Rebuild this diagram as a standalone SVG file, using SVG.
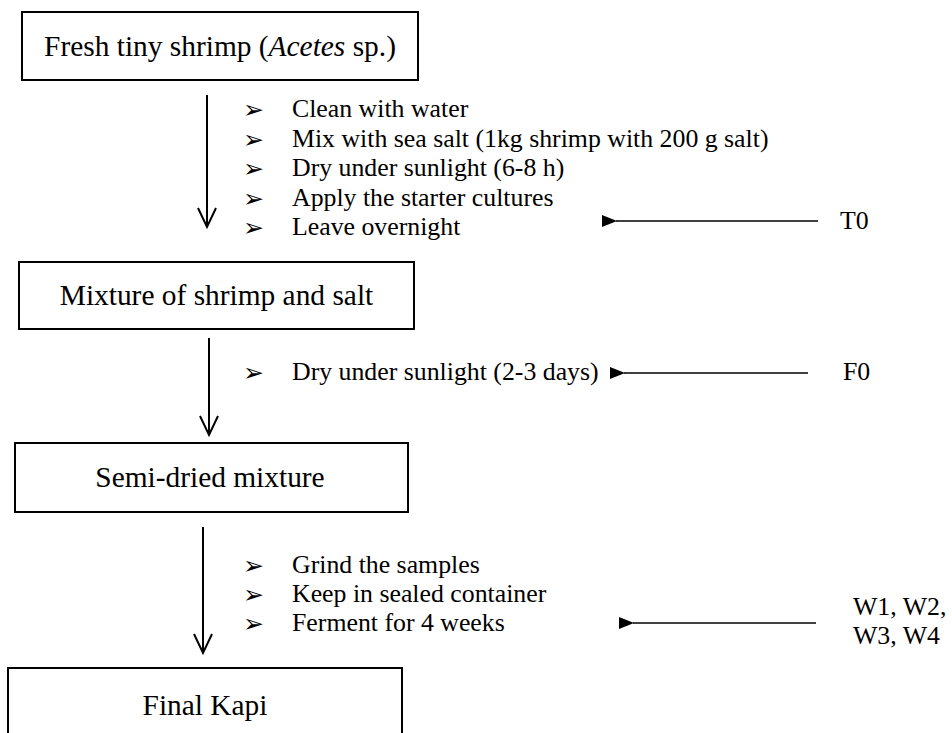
<svg xmlns="http://www.w3.org/2000/svg" width="952" height="733" viewBox="0 0 952 733">
  <style>
    .box { fill: #fff; stroke: #000; stroke-width: 2; }
    .title { font-family: "Liberation Serif", "Times New Roman", serif; font-size: 29.4px; fill: #000; text-anchor: middle; }
    .step { font-family: "Liberation Serif", "Times New Roman", serif; font-size: 25.8px; fill: #000; }
    .bullet { font-family: "DejaVu Sans", sans-serif; font-size: 25px; fill: #000; }
    .flow { stroke: #000; stroke-width: 2; fill: none; }
    .tick { stroke: #000; stroke-width: 1.4; fill: none; }
  </style>
  <defs>
    <marker id="head" viewBox="0 0 15 12" refX="1" refY="6" markerWidth="15" markerHeight="12" markerUnits="userSpaceOnUse" orient="auto-start-reverse">
      <path d="M0,6 L15,0 L15,12 Z" fill="#000"/>
    </marker>
  </defs>
  <rect width="952" height="733" fill="#fff"/>

  <!-- process stages -->
  <g id="fresh-shrimp">
    <rect class="box" x="22" y="12" width="396" height="68"/>
    <text class="title" x="220" y="56">Fresh tiny shrimp (<tspan font-style="italic">Acetes</tspan> sp.)</text>
  </g>
  <g id="shrimp-salt-mix">
    <rect class="box" x="19" y="262" width="395" height="67"/>
    <text class="title" x="216.5" y="305">Mixture of shrimp and salt</text>
  </g>
  <g id="semi-dried">
    <rect class="box" x="15" y="443" width="393" height="69"/>
    <text class="title" x="210" y="487">Semi-dried mixture</text>
  </g>
  <g id="final-kapi">
    <rect class="box" x="8" y="668" width="394" height="80"/>
    <text class="title" x="205" y="715">Final Kapi</text>
  </g>

  <!-- step lists -->
  <g id="steps-1">
    <text class="bullet" x="243" y="118">➢</text><text class="step" x="292" y="117">Clean with water</text>
    <text class="bullet" x="243" y="147.5">➢</text><text class="step" x="292" y="146.5">Mix with sea salt (1kg shrimp with 200 g salt)</text>
    <text class="bullet" x="243" y="177">➢</text><text class="step" x="292" y="176">Dry under sunlight (6-8 h)</text>
    <text class="bullet" x="243" y="206.5">➢</text><text class="step" x="292" y="205.5">Apply the starter cultures</text>
    <text class="bullet" x="243" y="236">➢</text><text class="step" x="292" y="235">Leave overnight</text>
  </g>
  <g id="steps-2">
    <text class="bullet" x="243" y="381">➢</text><text class="step" x="292" y="380">Dry under sunlight (2-3 days)</text>
  </g>
  <g id="steps-3">
    <text class="bullet" x="243" y="574">➢</text><text class="step" x="292" y="573">Grind the samples</text>
    <text class="bullet" x="243" y="603">➢</text><text class="step" x="292" y="602">Keep in sealed container</text>
    <text class="bullet" x="243" y="632">➢</text><text class="step" x="292" y="631">Ferment for 4 weeks</text>
  </g>

  <!-- sampling points -->
  <g id="sample-T0">
    <text class="step" x="840" y="229">T0</text>
  </g>
  <g id="sample-F0">
    <text class="step" x="843" y="380">F0</text>
  </g>
  <g id="sample-W">
    <text class="step" x="853" y="615">W1, W2,</text>
    <text class="step" x="853" y="644">W3, W4</text>
  </g>

  <!-- connectors -->
  <g id="connectors">
    <path class="flow" d="M207,95 V227 M198,208 L207,227 L216,208"/>
    <path class="flow" d="M209,338 V435 M200,416 L209,435 L218,416"/>
    <path class="flow" d="M203,527 V653 M194,634 L203,653 L212,634"/>
    <line class="tick" x1="818" y1="221" x2="616" y2="221" marker-end="url(#head)"/>
    <line class="tick" x1="808" y1="373" x2="624" y2="373" marker-end="url(#head)"/>
    <line class="tick" x1="816" y1="623" x2="633" y2="623" marker-end="url(#head)"/>
  </g>
</svg>
